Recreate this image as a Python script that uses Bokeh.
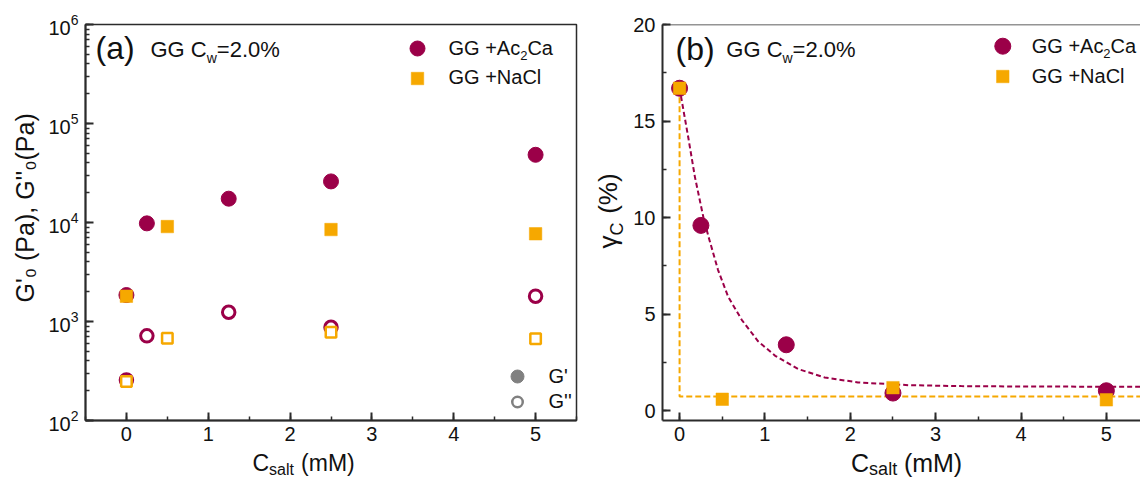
import math
from bokeh.plotting import figure
from bokeh.models import Label, Span, SingleIntervalTicker, LogTicker, Range1d
from bokeh.layouts import row
from bokeh.embed import file_html
from bokeh.resources import INLINE

# ---------------- data ----------------
c_ac = [0, 0.25, 1.25, 2.5, 5]            # C_salt (mM), GG + Ac2Ca
c_na = [0, 0.5, 2.5, 5]                   # C_salt (mM), GG + NaCl
g1_ac = [1850, 9800, 17400, 26000, 48300]  # G'0 (Pa)
g2_ac = [257, 716, 1240, 875, 1800]        # G''0 (Pa)
g1_na = [1800, 9100, 8490, 7690]
g2_na = [248, 678, 780, 668]

gam_ac = [16.7, 9.6, 3.42, 0.92, 1.04]     # gamma_c (%)
gam_na = [16.7, 0.6, 1.2, 0.57]

fit_ac_x = [0, 0.02, 0.10, 0.18, 0.28, 0.34, 0.45, 0.57, 0.73, 0.92, 1.12, 1.39, 1.70, 2.09, 2.68, 3.3, 4.0, 5.0, 5.5]
fit_ac_y = [16.7, 16.2, 14.2, 12.1, 10.0, 9.0, 7.3, 5.9, 4.7, 3.6, 2.85, 2.16, 1.73, 1.47, 1.33, 1.28, 1.26, 1.25, 1.25]
fit_na_x = [0, 0, 5.5]
fit_na_y = [16.7, 0.74, 0.74]

# ---------------- style ----------------
MAROON = "#9B0048"
ORANGE = "#F6A800"
GRAY = "#808080"
AXC = "#2b2b2b"
TXT = "#111111"
FONT = "Liberation Sans"
NB = "\u00a0"
MID = 0.36  # distance (in em) from the alphabetic baseline up to the text-box middle

W = {' ': 278, NB: 278, '%': 889, "'": 191, '"': 355, '(': 333, ')': 333, '+': 584, ',': 278,
     '.': 278, '=': 584, 'A': 667, 'C': 722, 'G': 778, 'M': 833, 'N': 722, 'P': 667,
     'a': 556, 'b': 556, 'c': 500, 'l': 222, 'm': 833, 's': 500, 't': 278, 'w': 722,
     'γ': 500}


def tw(s, size):
    return sum(W.get(ch, 556) for ch in s) * size / 1000.0


def put(p, fx, fy, px, py, text, size, angle=0.0, side=None):
    """px,py = page px of the baseline start."""
    if angle == 0:
        py = py - MID * size
    else:
        px = px - MID * size
    lab = Label(x=fx(px), y=fy(py), x_units="data", y_units="data", text=text,
                text_font=FONT, text_font_size=f"{size}px", text_color=TXT,
                text_baseline="middle", text_align="left", angle=angle)
    if side is None:
        p.add_layout(lab)
    else:
        p.add_layout(lab, side)


def rich(p, fx, fy, x, y, parts):
    """Horizontal run of text pieces inside the frame; x,y = page px of baseline start."""
    adv = 0.0
    for text, size, dy in parts:
        put(p, fx, fy, x + adv, y + dy, text, size)
        adv += tw(text, size)


def style_axes(p, size):
    p.grid.visible = False
    for ax in list(p.xaxis) + list(p.yaxis):
        ax.axis_line_width = 2
        ax.axis_line_color = AXC
        ax.major_tick_in = 8
        ax.major_tick_out = 0
        ax.minor_tick_in = 4
        ax.minor_tick_out = 0
        ax.major_tick_line_width = 2
        ax.major_tick_line_color = AXC
        ax.minor_tick_line_width = 1.5
        ax.minor_tick_line_color = AXC
        ax.major_label_text_font = FONT
        ax.major_label_text_font_size = f"{size}px"
        ax.major_label_text_color = TXT
        ax.major_label_standoff = 7
    p.xaxis.major_label_standoff = 6
    p.background_fill_color = "white"
    p.border_fill_color = "white"


SPLIT = 580  # page x where panel (a) canvas ends and panel (b) canvas starts

# ---------------- panel (a) ----------------
A_L, A_R, A_T, A_B = 85, 576, 24, 420
pa = figure(width=SPLIT, height=479, title=None, x_range=Range1d(-0.5, 5.5),
            y_range=Range1d(1e2, 1e6), y_axis_type="log",
            output_backend="svg", toolbar_location=None,
            min_border_left=A_L, min_border_right=SPLIT - A_R,
            min_border_top=A_T, min_border_bottom=479 - A_B)
style_axes(pa, 20)
pa.xaxis.ticker = SingleIntervalTicker(interval=1, num_minor_ticks=2)
pa.yaxis.ticker = LogTicker(num_minor_ticks=10, desired_num_ticks=5)
pa.outline_line_color = AXC
pa.outline_line_width = 1.5


def a_x(px):
    return -0.5 + (px - A_L) / (A_R - A_L) * 6.0


def a_y(py):
    return 10 ** (6 - (py - A_T) / (A_B - A_T) * 4.0)


pa.scatter(c_ac, g1_ac, marker="circle", size=15, fill_color=MAROON, line_color=MAROON, line_width=1)
pa.scatter(c_ac, g2_ac, marker="circle", size=12.5, fill_color="white", line_color=MAROON, line_width=3)
pa.scatter(c_na, g1_na, marker="square", size=12.5, fill_color=ORANGE, line_color=ORANGE, line_width=0.5)
pa.scatter(c_na, g2_na, marker="square", size=10.5, fill_color="white", line_color=ORANGE, line_width=2.5)

# legends (a)
pa.scatter([a_x(417)], [a_y(48)], marker="circle", size=15, fill_color=MAROON, line_color=MAROON)
pa.scatter([a_x(417)], [a_y(78)], marker="square", size=12.5, fill_color=ORANGE, line_color=ORANGE, line_width=0.5)
pa.scatter([a_x(517)], [a_y(376)], marker="circle", size=13, fill_color=GRAY, line_color=GRAY)
pa.scatter([a_x(517)], [a_y(401.5)], marker="circle", size=10.5, fill_color="white", line_color=GRAY, line_width=2.5)

rich(pa, a_x, a_y, 448, 55, [("GG +Ac", 20, 0), ("2", 13, 5), ("Ca", 20, 0)])
rich(pa, a_x, a_y, 448, 84, [("GG +NaCl", 20, 0)])
rich(pa, a_x, a_y, 548, 383, [("G'", 20, 0)])
rich(pa, a_x, a_y, 548, 408, [("G''", 20, 0)])
rich(pa, a_x, a_y, 95, 59, [("(a)", 32, 0)])
rich(pa, a_x, a_y, 150, 57, [("GG C", 22, 0), ("w", 14, 6), (" =2.0%", 22, 0)])

# axis titles (a): kept in side panels so they are not clipped to the frame
XA = 252
put(pa, a_x, a_y, XA, 471, "C" + NB * 5 + "(mM)", 23, side="below")
put(pa, a_x, a_y, XA + tw("C", 23), 475, "salt", 16, side="above")
put(pa, a_x, a_y, 33, 302, "G'\u2080 (Pa), G''\u2080(Pa)", 25, angle=math.pi / 2, side="left")

# ---------------- panel (b) ----------------
B_L, B_R, B_T, B_B = 661, 1140, 24, 420
pb = figure(width=1140 - SPLIT, height=479, title=None, x_range=Range1d(-0.2, 5.4),
            y_range=Range1d(-0.5, 20),
            output_backend="svg", toolbar_location=None,
            min_border_left=B_L - SPLIT, min_border_right=0,
            min_border_top=B_T, min_border_bottom=479 - B_B)
style_axes(pb, 20)
pb.xaxis.ticker = SingleIntervalTicker(interval=1, num_minor_ticks=2)
pb.yaxis.ticker = SingleIntervalTicker(interval=5, num_minor_ticks=2)
pb.outline_line_color = None
pb.add_layout(Span(location=20, dimension="width", line_color=AXC, line_width=1.5))


def b_x(px):
    return -0.2 + (px - B_L) / (B_R - B_L) * 5.6


def b_y(py):
    return -0.5 + (B_B - py) / (B_B - B_T) * 20.5


pb.line(fit_na_x, fit_na_y, line_color=ORANGE, line_width=2, line_dash="6 3")
pb.line(fit_ac_x, fit_ac_y, line_color=MAROON, line_width=2, line_dash="5 3")
pb.scatter(c_ac, gam_ac, marker="circle", size=16, fill_color=MAROON, line_color=MAROON)
pb.scatter(c_na, gam_na, marker="square", size=12.5, fill_color=ORANGE, line_color=ORANGE, line_width=0.5)

pb.scatter([b_x(1002)], [b_y(45.7)], marker="circle", size=16, fill_color=MAROON, line_color=MAROON)
pb.scatter([b_x(1002)], [b_y(76)], marker="square", size=12.5, fill_color=ORANGE, line_color=ORANGE, line_width=0.5)
rich(pb, b_x, b_y, 1031, 53, [("GG +Ac", 20, 0), ("2", 13, 5), ("Ca", 20, 0)])
rich(pb, b_x, b_y, 1031, 83, [("GG +NaCl", 20, 0)])
rich(pb, b_x, b_y, 674, 60, [("(b)", 32, 0)])
rich(pb, b_x, b_y, 725, 57, [("GG C", 22, 0), ("w", 14, 6), ("=2.0%", 22, 0)])

# axis titles (b)
XB = 850
put(pb, b_x, b_y, XB, 471, "C" + NB * 5 + "(mM)", 25, side="below")
put(pb, b_x, b_y, XB + tw("C", 25), 475, "salt", 18, side="above")
YB = 248
put(pb, b_x, b_y, 616, YB, "\u03b3" + NB * 3 + "(%)", 26, angle=math.pi / 2, side="left")
put(pb, b_x, b_y, 622, YB - tw("\u03b3", 26), "C", 18, angle=math.pi / 2, side="left")

layout = row(pa, pb)
open("out.html", "w").write(file_html(layout, INLINE))
